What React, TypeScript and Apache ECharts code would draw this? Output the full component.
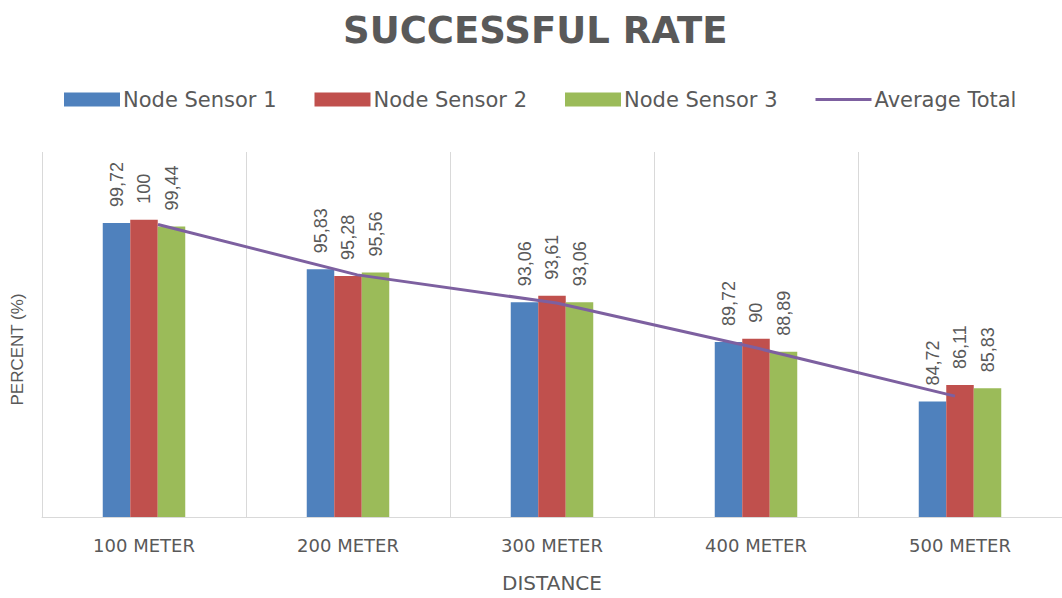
import React, { useEffect, useRef } from "react";
import * as echarts from "echarts";

const categories = ["100 METER", "200 METER", "300 METER", "400 METER", "500 METER"];
const sensor1 = [99.72, 95.83, 93.06, 89.72, 84.72];
const sensor2 = [100, 95.28, 93.61, 90, 86.11];
const sensor3 = [99.44, 95.56, 93.06, 88.89, 85.83];
const averageTotal = [99.72, 95.56, 93.24, 89.54, 85.55];
const seriesNames = ["Node Sensor 1", "Node Sensor 2", "Node Sensor 3", "Average Total"];

const GREY = "#595959";
const Y_MIN = 75;
const Y_MAX = 105.7;

export default function App() {
  const ref = useRef<HTMLDivElement>(null);
  useEffect(() => {
    if (!ref.current) return;
    const chart = echarts.init(ref.current, undefined, { renderer: "svg" });
    const label = {
      show: true,
      position: "top",
      rotate: 90,
      align: "left",
      verticalAlign: "middle",
      distance: 16,
      color: GREY,
      fontSize: 18,
      fontFamily: "Liberation Sans",
      formatter: (p: any) => String(p.value).replace(".", ","),
    };
    const bar = (name: string, data: number[], color: string) => ({
      name,
      type: "bar",
      data,
      barWidth: 27.5,
      barGap: "0%",
      itemStyle: { color },
      label,
      xAxisIndex: 0,
      yAxisIndex: 0,
    });
    chart.setOption({
      animation: false,
      backgroundColor: "#ffffff",
      title: {
        text: "SUCCESSFUL RATE",
        left: 338,
        top: 7,
        textStyle: { fontFamily: "DejaVu Sans", fontWeight: "bold", fontSize: 37, color: GREY },
      },
      legend: {
        top: 84,
        left: 59,
        itemWidth: 56,
        itemHeight: 14,
        itemGap: 38,
        data: [
          { name: seriesNames[0], icon: "rect" },
          { name: seriesNames[1], icon: "rect" },
          { name: seriesNames[2], icon: "rect" },
          { name: seriesNames[3], icon: "path://M0,0L56,0L56,3L0,3Z" },
        ],
        textStyle: { fontFamily: "DejaVu Sans", fontSize: 21, color: GREY, padding: [0, 0, 0, -2] },
      },
      grid: [
        { left: 42, width: 1030, top: 152, height: 372 },
        { left: 158, width: 797, top: 152, height: 372 },
      ],
      xAxis: [
        {
          type: "category",
          gridIndex: 0,
          data: categories,
          name: "DISTANCE",
          nameLocation: "middle",
          nameGap: 56,
          nameTextStyle: { fontFamily: "DejaVu Sans", fontSize: 20, color: GREY },
          axisLine: { show: true, lineStyle: { color: "#D9D9D9", width: 1 } },
          axisTick: { show: false },
          axisLabel: { color: GREY, fontFamily: "DejaVu Sans", fontSize: 18, margin: 19 },
          splitLine: { show: true, lineStyle: { color: "#D9D9D9", width: 1 } },
        },
        {
          type: "category",
          gridIndex: 1,
          data: categories,
          boundaryGap: false,
          show: false,
        },
      ],
      yAxis: [
        {
          type: "value",
          gridIndex: 0,
          min: Y_MIN,
          max: Y_MAX,
          name: "PERCENT (%)",
          nameLocation: "middle",
          nameGap: 16,
          nameTextStyle: { fontFamily: "Liberation Sans", fontSize: 17, color: GREY, padding: [0, 30, 0, 0] },
          axisLine: { show: false },
          axisTick: { show: false },
          axisLabel: { show: false },
          splitLine: { show: false },
        },
        { type: "value", gridIndex: 1, min: Y_MIN, max: Y_MAX, show: false },
      ],
      series: [
        bar(seriesNames[0], sensor1, "#4F81BD"),
        bar(seriesNames[1], sensor2, "#C0504D"),
        bar(seriesNames[2], sensor3, "#9BBB59"),
        {
          name: seriesNames[3],
          type: "line",
          data: averageTotal,
          xAxisIndex: 1,
          yAxisIndex: 1,
          symbol: "none",
          showSymbol: false,
          lineStyle: { color: "#7D60A0", width: 3 },
          itemStyle: { color: "#7D60A0" },
          z: 5,
        },
      ],
    });
    return () => chart.dispose();
  }, []);
  return (
    <div
      ref={ref}
      style={{ position: "absolute", left: 0, top: 0, width: 1062, height: 598, overflow: "hidden" }}
    />
  );
}
